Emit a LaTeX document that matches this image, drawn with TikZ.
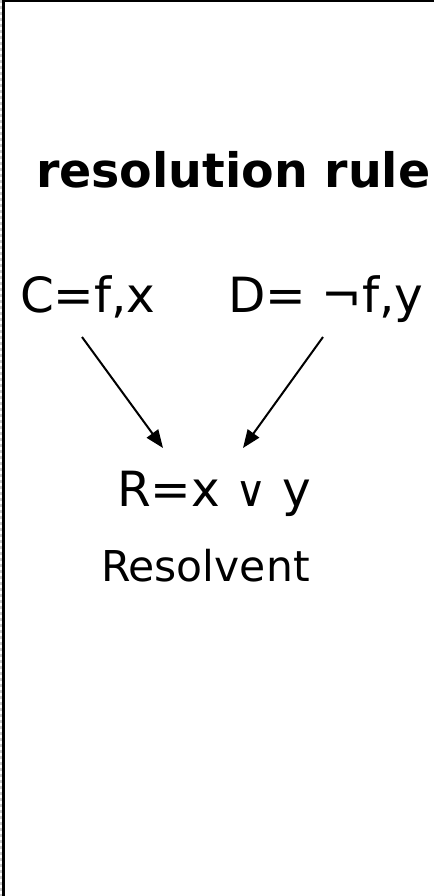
\documentclass[tikz,border=0pt]{standalone}
\usepackage{fontspec}
\setmainfont{DejaVu Sans}
\usetikzlibrary{arrows.meta}
\newcommand{\smallveesym}{{\fontsize{43}{43}\selectfont ∨}}
\tikzset{
  lbl/.style={anchor=base west, inner sep=0pt, outer sep=0pt, font=\fontsize{48.5}{50}\selectfont},
  ttl/.style={anchor=base west, inner sep=0pt, outer sep=0pt, font=\fontsize{47.5}{50}\selectfont\bfseries},
  sub/.style={anchor=base west, inner sep=0pt, outer sep=0pt, font=\fontsize{42.5}{45}\selectfont},
  arr/.style={line width=2pt, -{Triangle[length=18pt,width=14pt]}},
  frameline/.style={line width=2.4pt, black}
}
\begin{document}
\begin{tikzpicture}[x=1pt,y=-1pt]
\useasboundingbox (0,0) rectangle (434,896);
\fill[white] (0,0) rectangle (434,896);
% frame
\draw[line width=2pt, gray!40, dash pattern=on 3pt off 3pt] (1,0) -- (1,896);
\draw[frameline] (3.3,0) -- (3.3,896);
\draw[frameline] (2,1.2) -- (434,1.2);
% texts
\node[ttl] (title) at (36,187) {resolution rule};
\node[lbl] (C) at (20,312) {C=f,x};
\node[lbl] (D) at (228,312) {D= ¬f,y};
\node[lbl] (R) at (117,506) {R=x \smallveesym{} y};
\node[sub] (res) at (101,581) {Resolvent};
% arrows
\coordinate (c1) at (82,337);
\coordinate (c2) at (163,448);
\coordinate (d1) at (323,337);
\coordinate (d2) at (243,448);
\draw[arr] (c1) -- (c2);
\draw[arr] (d1) -- (d2);
\end{tikzpicture}
\end{document}
